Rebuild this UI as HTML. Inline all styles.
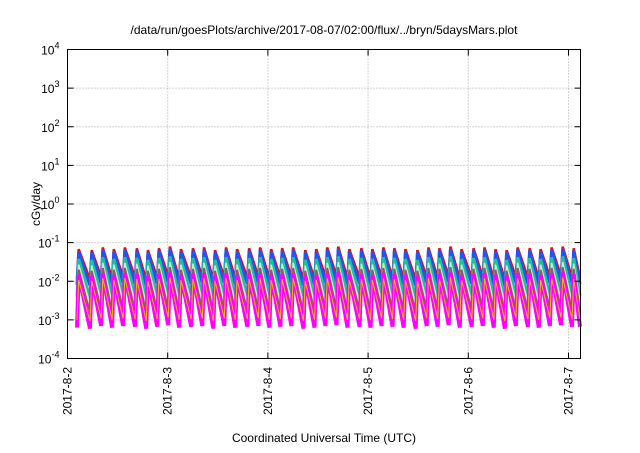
<!DOCTYPE html>
<html><head><meta charset="utf-8"><style>
body{margin:0;background:#fff;}
svg text{font-family:"Liberation Sans",sans-serif;fill:#000;}
</style></head><body>
<svg id="chart" width="640" height="448" viewBox="0 0 640 448" xmlns="http://www.w3.org/2000/svg">
<text x="324" y="34" font-size="12" text-anchor="middle">/data/run/goesPlots/archive/2017-08-07/02:00/flux/../bryn/5daysMars.plot</text>
<g id="grid"></g>
<g id="series"></g>
<rect x="67.5" y="49.5" width="513" height="309" fill="none" stroke="#000" stroke-width="1"/>
<g id="axes"></g>
<text transform="translate(40,204) rotate(-90)" font-size="12" text-anchor="middle">cGy/day</text>
<text x="324" y="442" font-size="12" text-anchor="middle">Coordinated Universal Time (UTC)</text>
</svg>
<script>
const xTickLabels = ["2017-8-2","2017-8-3","2017-8-4","2017-8-5","2017-8-6","2017-8-7"];
const yTickExps = [-4,-3,-2,-1,0,1,2,3,4];
const cycleTimes = [0.10,0.23,0.34,0.45,0.56,0.68,0.79,0.90,1.01,1.12,1.24,1.35,1.46,1.57,1.68,1.80,1.91,2.02,2.13,2.24,2.36,2.47,2.58,2.69,2.80,2.92,3.03,3.14,3.25,3.36,3.48,3.59,3.70,3.81,3.92,4.04,4.15,4.26,4.37,4.48,4.60,4.71,4.82,4.93,5.04];
const cycleLevels = [0.9,0.85,1.0,0.9,1.0,0.95,0.85,0.95,1.05,0.9,0.95,1.0,0.85,1.0,0.9,0.95,1.0,0.9,0.95,1.0,0.85,0.9,1.0,1.05,0.9,0.95,0.9,1.0,0.95,0.9,0.85,1.0,0.95,1.05,0.9,0.95,1.0,0.9,0.85,1.0,0.95,0.9,1.0,1.05,0.95];
const seriesColors = ["#ff0000","#2255ee","#1fbfa0","#c8f0c0","#a05070","#ff00ff","#e0c000"];
const seriesPeaks  = [0.075,0.066,0.042,0.03,0.022,0.016,0.012];
const seriesTroughs= [0.013,0.009,0.0045,0.003,0.0018,0.0007,0.0011];
const seriesWidths = [2.5,3,3,1.5,2,4,1];

const X0=67.5,X1=580.5,Y0=358.5,Y1=49.5, DAYS=5.12;
const xs=d=>X0+d/DAYS*(X1-X0);
const ys=v=>Y0-(Math.log10(v)+4)/8*(Y0-Y1);
const NS="http://www.w3.org/2000/svg";
const grid=document.getElementById('grid'),axes=document.getElementById('axes'),ser=document.getElementById('series');
function mk(tag,attrs,parent){const e=document.createElementNS(NS,tag);for(const k in attrs)e.setAttribute(k,attrs[k]);parent.appendChild(e);return e;}
yTickExps.forEach((p,i)=>{
  const y=ys(Math.pow(10,p));
  if(p>-4&&p<4){const g=mk('line',{x1:X0,x2:X1,y1:y,y2:y,stroke:'#aaa','stroke-dasharray':'1,2','stroke-width':1},grid);
  }
  const t=mk('line',{x1:X0,x2:X0+6,y1:y,y2:y,stroke:'#000'},axes);
  
  const t2=mk('line',{x1:X1,x2:X1-6,y1:y,y2:y,stroke:'#000'},axes);
  
  const tx=mk('text',{x:X0-8,y:y+5,'font-size':12,'text-anchor':'end'},axes);
  
  tx.innerHTML='10<tspan dy="-6" font-size="9">'+p+'</tspan>';
});
xTickLabels.forEach((lab,i)=>{
  const x=xs(i);
  if(i>0){const g=mk('line',{x1:x,x2:x,y1:Y1,y2:Y0,stroke:'#aaa','stroke-dasharray':'1,2'},grid);
  }
  const t=mk('line',{x1:x,x2:x,y1:Y0,y2:Y0-6,stroke:'#000'},axes);
  
  const t2=mk('line',{x1:x,x2:x,y1:Y1,y2:Y1+6,stroke:'#000'},axes);
  
  const tx=mk('text',{transform:`translate(${x+4},367) rotate(-90)`,'font-size':12,'text-anchor':'end'},axes);
  
  tx.textContent=lab;
});
seriesColors.forEach((c,s)=>{
  let d='';
  cycleTimes.forEach((t,i)=>{
    const lv=cycleLevels[i];
    const tr=seriesTroughs[s]*lv, pk=seriesPeaks[s]*lv;
    d+=(i===0?'M':'L')+xs(t-0.005).toFixed(1)+','+ys(tr).toFixed(1)+'L'+xs(t+0.012).toFixed(1)+','+ys(pk).toFixed(1);
    const nt = i+1<cycleTimes.length?cycleTimes[i+1]:Math.min(t+0.11,DAYS);
    const ntr = seriesTroughs[s]*(i+1<cycleLevels.length?cycleLevels[i+1]:lv);
    d+='L'+xs(Math.min(nt-0.005,DAYS)).toFixed(1)+','+ys(ntr).toFixed(1);
  });
  const p=mk('path',{d:d,fill:'none',stroke:c,'stroke-width':seriesWidths[s],'stroke-linejoin':'miter'},ser);
  
  
});
</script>
</body></html>
